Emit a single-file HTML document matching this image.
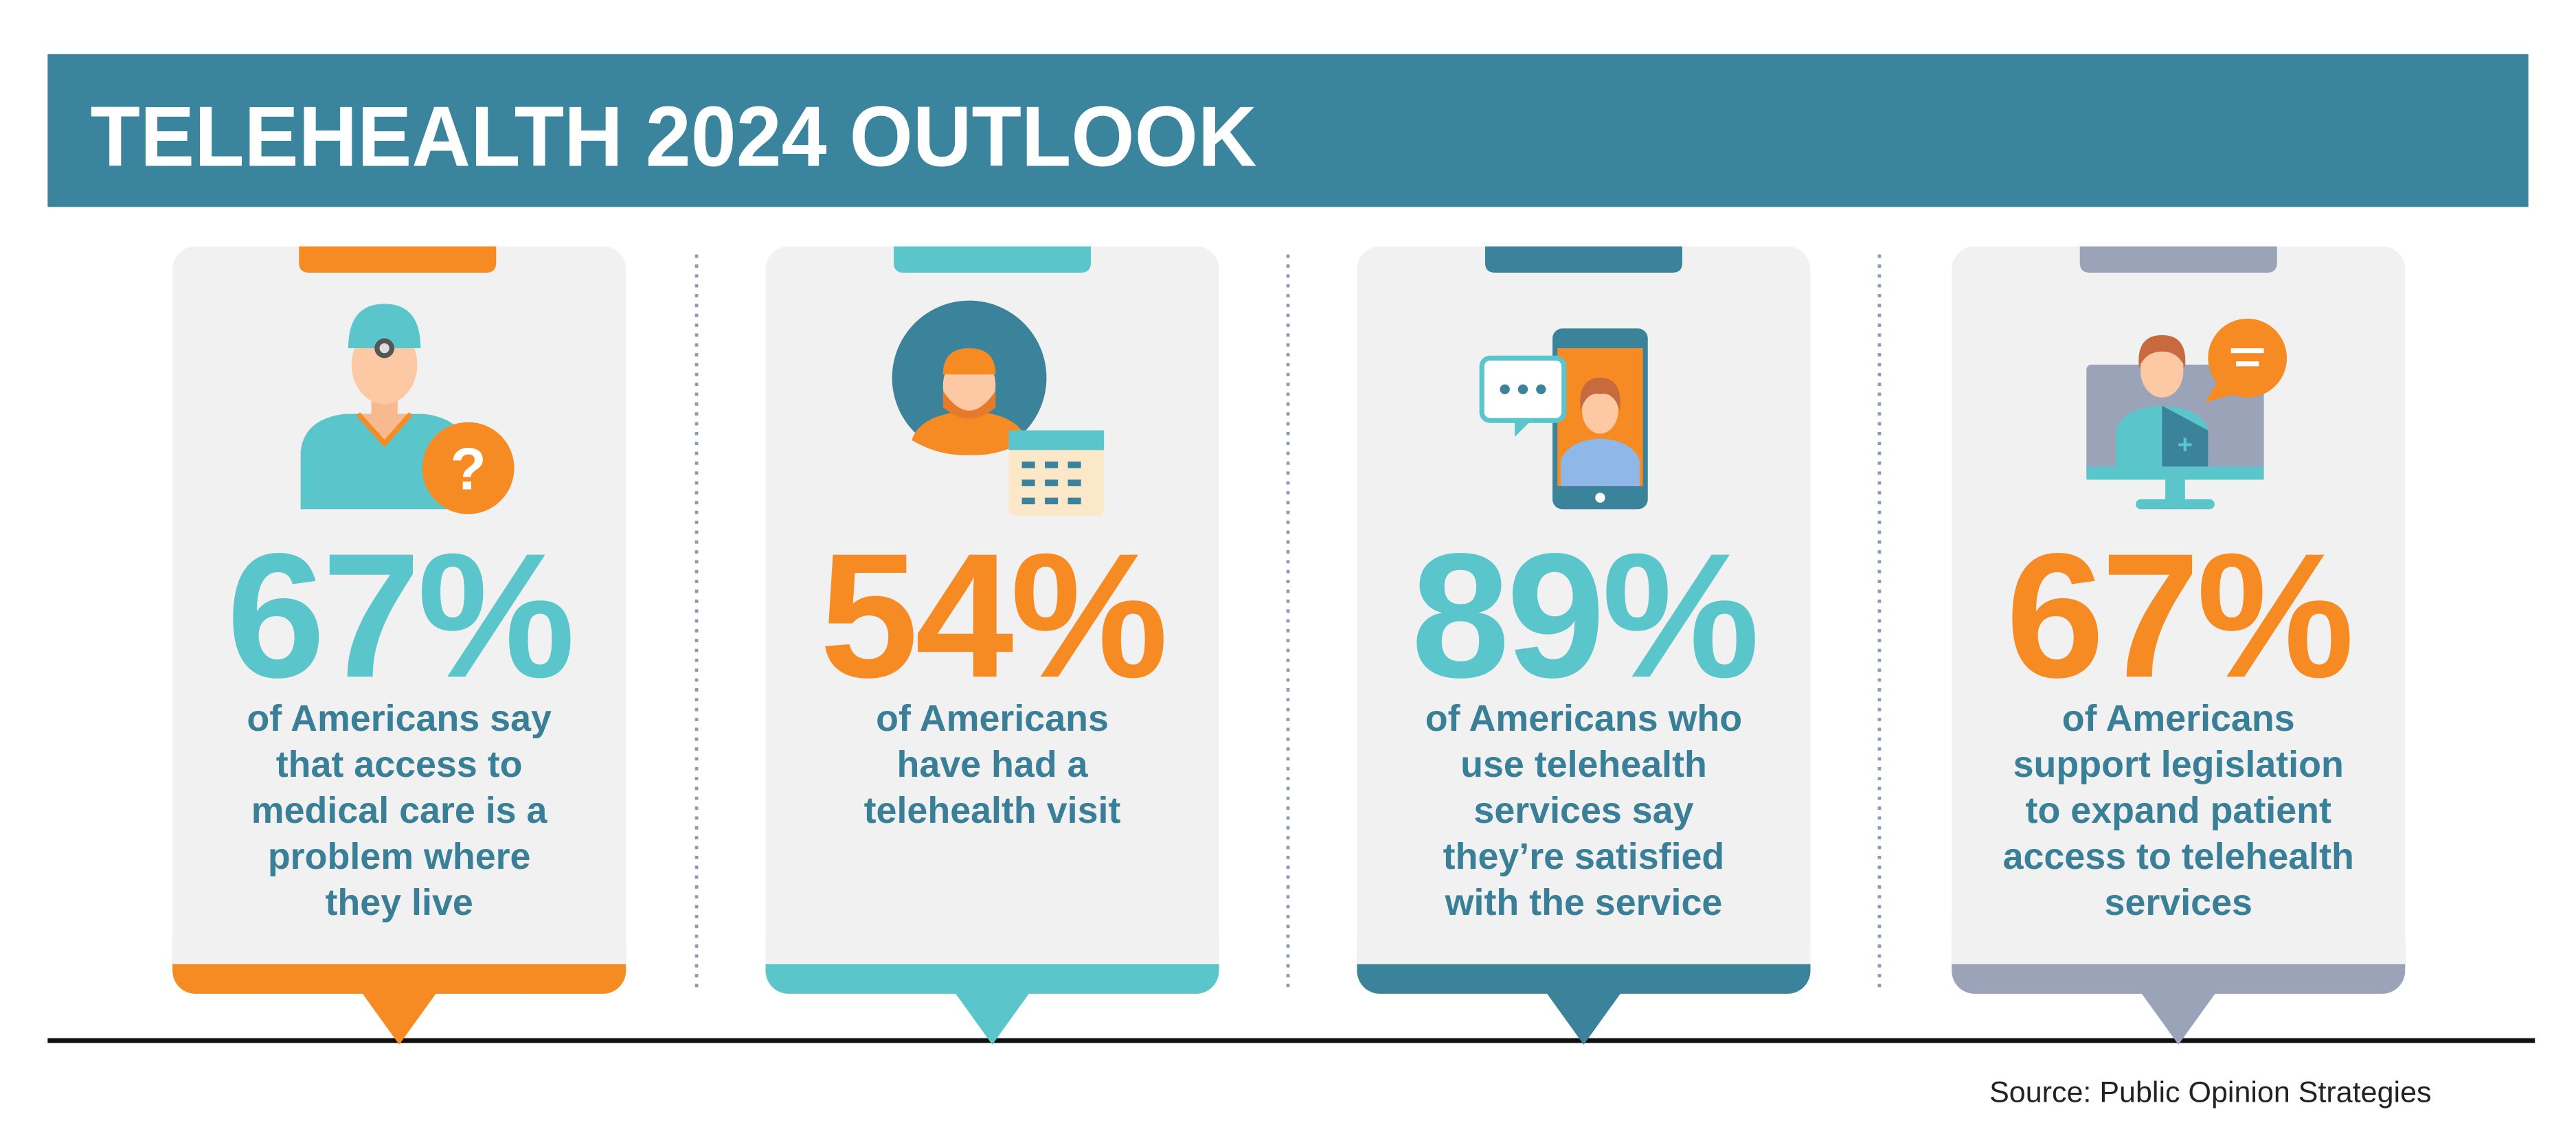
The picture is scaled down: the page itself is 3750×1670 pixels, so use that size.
<!DOCTYPE html>
<html><head><meta charset="utf-8"><style>
html,body{margin:0;padding:0;background:#fff;width:3750px;height:1670px;overflow:hidden}
svg{display:block}
.pct{font-family:"Liberation Sans",sans-serif;font-weight:bold;font-size:108px;text-anchor:middle;letter-spacing:-2px}
.body{font-family:"Liberation Sans",sans-serif;font-weight:bold;font-size:22.5px;fill:#3a7f98;text-anchor:middle}
</style></head><body>
<svg width="3750" height="1670" viewBox="0 0 1568 698.3" preserveAspectRatio="none">
<rect x="0" y="0" width="1568" height="698.3" fill="#fff"/>
<rect x="29" y="33" width="1510" height="93" fill="#3a849e"/>
<text x="55" y="101" font-family="Liberation Sans,sans-serif" font-weight="bold" font-size="52" fill="#fff" textLength="710" lengthAdjust="spacingAndGlyphs">TELEHEALTH 2024 OUTLOOK</text>

<g stroke="#8d9bb0" stroke-width="2" stroke-dasharray="2,4">
<line x1="424" y1="155" x2="424" y2="603"/><line x1="784" y1="155" x2="784" y2="603"/><line x1="1144" y1="155" x2="1144" y2="603"/>
</g>
<line x1="29" y1="633.5" x2="1543" y2="633.5" stroke="#111" stroke-width="3"/>

<rect x="105" y="150" width="276" height="455" rx="14" fill="#f1f1f1"/>
<rect x="105" y="560" width="276" height="45" rx="14" fill="#f58b22"/>
<rect x="105" y="555" width="276" height="32" fill="#f1f1f1"/>
<polygon points="220,604 266,604 243,636" fill="#f58b22"/>
<path d="M182,150 H302 V160 Q302,166 296,166 H188 Q182,166 182,160Z" fill="#f58b22"/>

<rect x="466" y="150" width="276" height="455" rx="14" fill="#f1f1f1"/>
<rect x="466" y="560" width="276" height="45" rx="14" fill="#5bc5cc"/>
<rect x="466" y="555" width="276" height="32" fill="#f1f1f1"/>
<polygon points="581,604 627,604 604,636" fill="#5bc5cc"/>
<path d="M544,150 H664 V160 Q664,166 658,166 H550 Q544,166 544,160Z" fill="#5bc5cc"/>

<rect x="826" y="150" width="276" height="455" rx="14" fill="#f1f1f1"/>
<rect x="826" y="560" width="276" height="45" rx="14" fill="#3a839b"/>
<rect x="826" y="555" width="276" height="32" fill="#f1f1f1"/>
<polygon points="941,604 987,604 964,636" fill="#3a839b"/>
<path d="M904,150 H1024 V160 Q1024,166 1018,166 H910 Q904,166 904,160Z" fill="#3a839b"/>

<rect x="1188" y="150" width="276" height="455" rx="14" fill="#f1f1f1"/>
<rect x="1188" y="560" width="276" height="45" rx="14" fill="#9aa3b8"/>
<rect x="1188" y="555" width="276" height="32" fill="#f1f1f1"/>
<polygon points="1303,604 1349,604 1326,636" fill="#9aa3b8"/>
<path d="M1266,150 H1386 V160 Q1386,166 1380,166 H1272 Q1266,166 1266,160Z" fill="#9aa3b8"/>

<!-- icon 1 -->
<path d="M183,310 L183,275 Q185,255 210,252 L258,252 Q283,255 285,275 L285,310 Z" fill="#5bc5cc"/>
<path d="M220,252 L234,272 L248,252 Z" fill="#f7b98d"/>
<path d="M218,252 L234,270 L250,252" fill="none" stroke="#f58b22" stroke-width="3"/>
<rect x="226" y="238" width="16" height="18" fill="#f7b98d"/>
<ellipse cx="234" cy="222" rx="20" ry="24" fill="#fcc9a4"/>
<path d="M212,212 Q212,185 234,185 Q256,185 256,212 Z" fill="#5bc5cc"/>
<circle cx="234" cy="212" r="6" fill="#555"/><circle cx="234" cy="212" r="3" fill="#ddd"/>
<circle cx="285" cy="285" r="28" fill="#f58b22"/>
<text x="285" y="298" font-family="Liberation Sans,sans-serif" font-weight="bold" font-size="36" fill="#fff" text-anchor="middle">?</text>

<!-- icon 2 -->
<circle cx="590" cy="230" r="47" fill="#3a839b"/>
<path d="M555,268 Q560,252 590,250 Q620,252 625,268 Q608,278 590,277 Q572,278 555,268 Z" fill="#f58b22"/>
<ellipse cx="590" cy="235" rx="16" ry="20" fill="#fcc9a4"/>
<path d="M574,238 Q590,262 606,238 L606,248 Q590,262 574,248Z" fill="#e57a2a"/>
<path d="M574,228 Q574,212 590,212 Q606,212 606,228 Z" fill="#f58b22"/>
<rect x="614" y="262" width="58" height="52" rx="4" fill="#fbe8c8"/>
<rect x="614" y="262" width="58" height="12" fill="#5bc5cc"/>
<g fill="#3a839b"><rect x="622" y="281" width="8" height="4"/><rect x="636" y="281" width="8" height="4"/><rect x="650" y="281" width="8" height="4"/><rect x="622" y="292" width="8" height="4"/><rect x="636" y="292" width="8" height="4"/><rect x="650" y="292" width="8" height="4"/><rect x="622" y="303" width="8" height="4"/><rect x="636" y="303" width="8" height="4"/><rect x="650" y="303" width="8" height="4"/></g>

<!-- icon 3 -->
<rect x="945" y="200" width="58" height="110" rx="6" fill="#3a839b"/>
<rect x="948" y="212" width="52" height="84" fill="#f58b22"/>
<path d="M950,296 L950,280 Q955,268 974,267 Q993,268 998,280 L998,296 Z" fill="#8fb8e8"/>
<ellipse cx="974" cy="250" rx="11" ry="14" fill="#fcc9a4"/>
<path d="M962,250 Q960,230 974,230 Q988,230 986,250 Q982,238 974,240 Q966,238 962,250Z" fill="#c96a3e"/>
<circle cx="974" cy="303" r="3" fill="#fff"/>
<rect x="902" y="218" width="50" height="38" rx="5" fill="#fff" stroke="#5bc5cc" stroke-width="3"/>
<polygon points="922,256 932,256 922,266" fill="#5bc5cc"/>
<circle cx="916" cy="237" r="3" fill="#3a839b"/><circle cx="927" cy="237" r="3" fill="#3a839b"/><circle cx="938" cy="237" r="3" fill="#3a839b"/>

<!-- icon 4 -->
<rect x="1270" y="222" width="108" height="70" rx="3" fill="#9aa3b8"/>
<rect x="1270" y="284" width="108" height="8" fill="#5bc5cc"/>
<rect x="1318" y="292" width="12" height="12" fill="#5bc5cc"/>
<rect x="1300" y="304" width="48" height="6" rx="3" fill="#5bc5cc"/>
<path d="M1288,284 L1288,262 Q1292,248 1316,247 Q1340,248 1344,262 L1344,284 Z" fill="#5bc5cc"/>
<path d="M1316,247 L1344,262 L1344,284 L1316,284Z" fill="#3a839b"/>
<text x="1330" y="276" font-family="Liberation Sans,sans-serif" font-weight="bold" font-size="16" fill="#5bc5cc" text-anchor="middle">+</text>
<ellipse cx="1316" cy="226" rx="13" ry="16" fill="#fcc9a4"/>
<path d="M1302,224 Q1300,204 1316,204 Q1332,204 1330,224 Q1326,214 1316,214 Q1306,214 1302,224Z" fill="#c96a3e"/>
<circle cx="1368" cy="218" r="24" fill="#f58b22"/>
<polygon points="1350,232 1360,240 1342,245" fill="#f58b22"/>
<rect x="1358" y="212" width="20" height="3" fill="#fff"/><rect x="1361" y="220" width="14" height="3" fill="#fff"/>

<text class="pct" x="243" y="412" fill="#5bc5cc">67%</text>
<text class="pct" x="604" y="412" fill="#f58b22">54%</text>
<text class="pct" x="964" y="412" fill="#5bc5cc">89%</text>
<text class="pct" x="1326" y="412" fill="#f58b22">67%</text>

<text class="body"><tspan x="243" y="445">of Americans say</tspan><tspan x="243" y="473">that access to</tspan><tspan x="243" y="501">medical care is a</tspan><tspan x="243" y="529">problem where</tspan><tspan x="243" y="557">they live</tspan></text>
<text class="body"><tspan x="604" y="445">of Americans</tspan><tspan x="604" y="473">have had a</tspan><tspan x="604" y="501">telehealth visit</tspan></text>
<text class="body"><tspan x="964" y="445">of Americans who</tspan><tspan x="964" y="473">use telehealth</tspan><tspan x="964" y="501">services say</tspan><tspan x="964" y="529">they’re satisfied</tspan><tspan x="964" y="557">with the service</tspan></text>
<text class="body"><tspan x="1326" y="445">of Americans</tspan><tspan x="1326" y="473">support legislation</tspan><tspan x="1326" y="501">to expand patient</tspan><tspan x="1326" y="529">access to telehealth</tspan><tspan x="1326" y="557">services</tspan></text>

<text x="1480" y="671" font-family="Liberation Sans Narrow,Liberation Sans,sans-serif" font-size="18" fill="#222" text-anchor="end">Source: Public Opinion Strategies</text>
</svg>
</body></html>
